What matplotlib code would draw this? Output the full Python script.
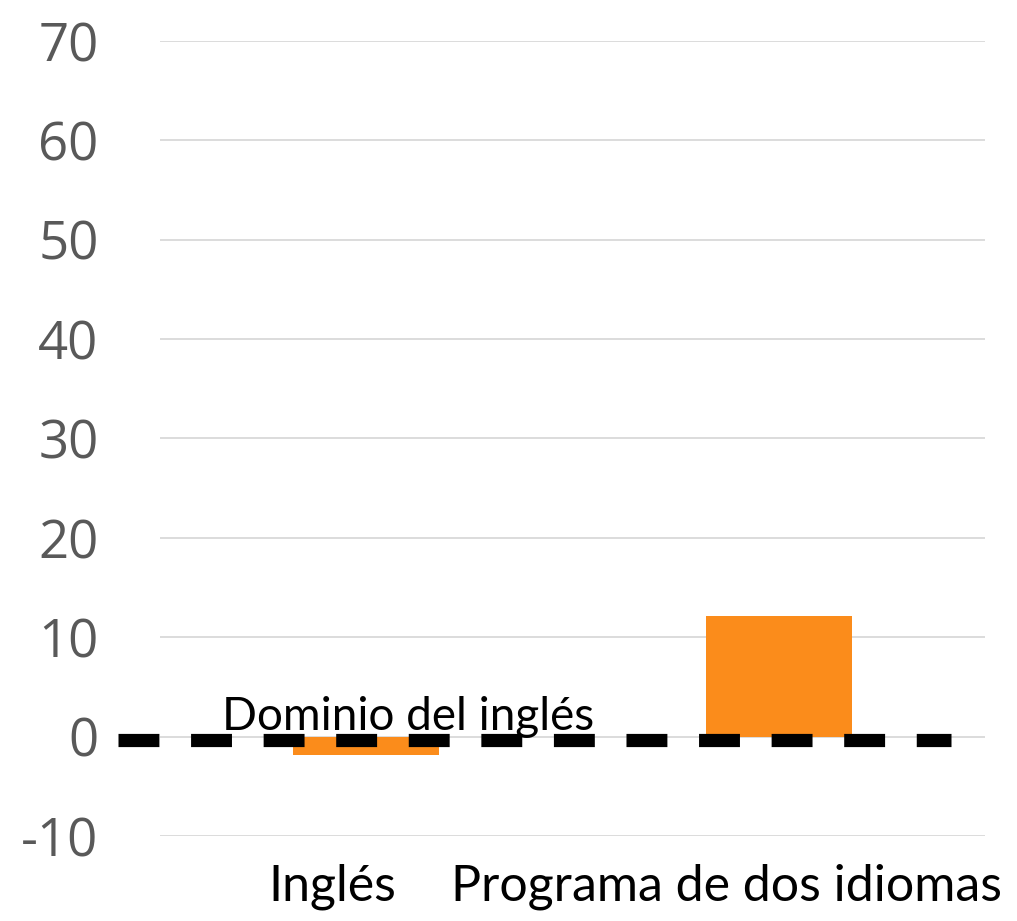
import numpy as np
import matplotlib
matplotlib.use("Agg")
import matplotlib.pyplot as plt
import matplotlib.transforms as mtransforms

# data
categories = ["Inglés", "Programa de dos idiomas"]
values = [-1.9, 12.1]
yticks = [-10, 0, 10, 20, 30, 40, 50, 60, 70]
ref_label = "Dominio del inglés"
ref_value = 0

fig = plt.figure(figsize=(10.17, 9.21), dpi=100)
ax = fig.add_axes([0.157, 0.0923, 0.812, 0.8632])

x = np.arange(len(categories))
ax.bar(x, values, width=0.355, color="#FB8C1B", zorder=2)

ax.set_xlim(-0.5, len(categories) - 0.5)
ax.set_ylim(-10, 70)
ax.set_yticks(yticks)
ax.set_yticklabels([str(v) for v in yticks], fontsize=38, color="#595959",
                   family=["Open Sans", "DejaVu Sans"])
ax.tick_params(axis="y", length=0, pad=44)
ax.grid(axis="y", color="#D9D9D9", linewidth=1.3, zorder=0)

ax.set_xticks(x)
ax.set_xticklabels(categories, fontsize=36, color="black",
                   family=["Lato", "DejaVu Sans"])
ax.tick_params(axis="x", length=0, pad=20)
# labels sit a bit left of the bar centres in the original
shifts = [-34, -53]
for lab, dx in zip(ax.get_xticklabels(), shifts):
    lab.set_transform(lab.get_transform() +
                      mtransforms.ScaledTranslation(dx / 100, 0, fig.dpi_scale_trans))

for s in ax.spines.values():
    s.set_visible(False)

# dashed reference line at zero (drawn a touch low, as in the original)
ax.plot([-0.602, 1.417], [ref_value - 0.35, ref_value - 0.35], color="black",
        linewidth=9.5, dashes=(3.1, 2.4), clip_on=False, zorder=3,
        dash_capstyle="butt")
ax.text(-0.35, 0.7, ref_label, fontsize=33, color="black",
        family=["Lato", "DejaVu Sans"], ha="left", va="baseline", zorder=4)

fig.savefig("out.png", dpi=100, facecolor="white")
